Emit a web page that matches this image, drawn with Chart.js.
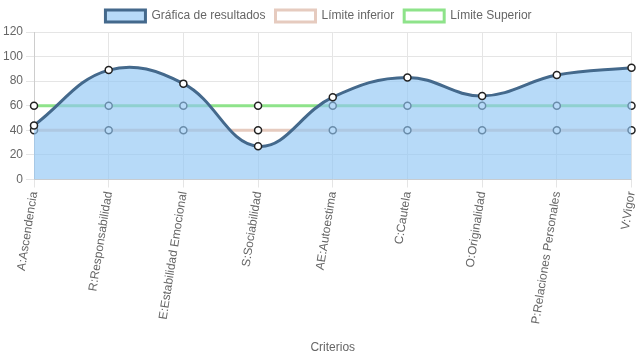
<!DOCTYPE html>
<html>
<head>
<meta charset="utf-8">
<script src="https://cdn.jsdelivr.net/npm/chart.js@4/dist/chart.umd.min.js"></script>
<style>
  html, body { margin: 0; padding: 0; background: #fff; }
  #wrap { width: 637px; height: 359px; }
</style>
</head>
<body>
<div id="wrap"><canvas id="grafica"></canvas></div>
<script>
// categories and values
const criterios = ['A:Ascendencia', 'R:Responsabilidad', 'E:Estabilidad Emocional', 'S:Sociabilidad',
  'AE:Autoestima', 'C:Cautela', 'O:Originalidad', 'P:Relaciones Personales', 'V:Vigor'];
const resultados = [44, 89, 78, 27, 67, 83, 68, 85, 91];
const limiteInferior = [40, 40, 40, 40, 40, 40, 40, 40, 40];
const limiteSuperior = [60, 60, 60, 60, 60, 60, 60, 60, 60];

Chart.defaults.font.family = '"Liberation Sans", Arial, sans-serif';
Chart.defaults.font.size = 12;
Chart.defaults.color = '#666';

const ctx = document.getElementById('grafica');
new Chart(ctx, {
  type: 'line',
  data: {
    labels: criterios,
    datasets: [
      {
        label: 'Gráfica de resultados',
        data: resultados,
        fill: 'origin',
        tension: 0.4,
        backgroundColor: 'rgba(144, 198, 245, 0.65)',
        borderColor: '#44698c',
        borderWidth: 3,
        pointBackgroundColor: '#fff',
        pointBorderColor: '#222',
        pointBorderWidth: 1.5,
        pointRadius: 3.5
      },
      {
        label: 'Límite inferior',
        data: limiteInferior,
        fill: false,
        backgroundColor: '#fff',
        borderColor: '#e6cbbf',
        borderWidth: 3,
        pointBackgroundColor: '#fff',
        pointBorderColor: '#222',
        pointBorderWidth: 1.5,
        pointRadius: 3.5
      },
      {
        label: 'Límite Superior',
        data: limiteSuperior,
        fill: false,
        backgroundColor: '#fff',
        borderColor: '#8ee38a',
        borderWidth: 3,
        pointBackgroundColor: '#fff',
        pointBorderColor: '#222',
        pointBorderWidth: 1.5,
        pointRadius: 3.5
      }
    ]
  },
  options: {
    responsive: true,
    maintainAspectRatio: false,
    animation: false,
    plugins: {
      legend: {
        position: 'top',
        labels: { boxWidth: 40, boxHeight: 12, padding: 10 }
      },
      tooltip: { enabled: false }
    },
    scales: {
      x: {
        grid: { color: '#e5e5e5' },
        ticks: { minRotation: 81, maxRotation: 81, color: '#666' },
        title: { display: true, text: 'Criterios', color: '#666', padding: { top: 14, bottom: 4 } },
        afterFit: (scale) => { scale.paddingRight = 4; }
      },
      y: {
        min: 0,
        max: 120,
        grid: { color: '#e5e5e5' },
        ticks: { stepSize: 20, color: '#666' }
      }
    }
  }
});
</script>
</body>
</html>
